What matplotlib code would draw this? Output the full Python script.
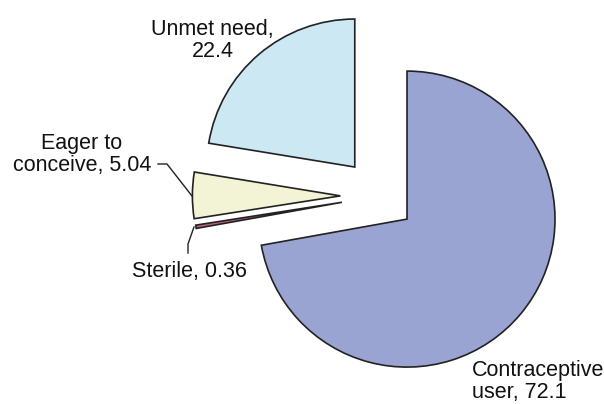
import matplotlib
matplotlib.use("Agg")
import matplotlib.pyplot as plt

categories = ["Contraceptive user", "Sterile", "Eager to conceive", "Unmet need"]
values = [72.1, 0.36, 5.04, 22.4]
label_texts = ["Contraceptive\nuser, 72.1", "Sterile, 0.36", "Eager to\nconceive, 5.04", "Unmet need,\n22.4"]
colors = ["#9aa4d2", "#c0607e", "#f3f3d6", "#cce8f3"]

W, H = 604, 404
fig = plt.figure(figsize=(W / 100, H / 100), dpi=100)
ax = fig.add_axes([0, 0, 1, 1])

def Y(py):
    return H - py

cx, cy = 379.4, Y(196)
radius = 148
explode = [36, 38, 39, 38]

ax.pie(values, colors=colors, startangle=90, counterclock=False,
       center=(cx, cy), radius=radius, explode=explode,
       wedgeprops=dict(edgecolor="#222222", linewidth=1.2), frame=True)
ax.set_xlim(0, W)
ax.set_ylim(0, H)
ax.set_aspect("equal")
ax.axis("off")

font = dict(family=["Liberation Sans", "DejaVu Sans"], fontsize=15.5, color="#111111")
ls = 1.05

ax.text(212.5, Y(57), label_texts[3], ha="center", va="baseline", multialignment="center",
        linespacing=ls, **font)
ax.text(82, Y(171), label_texts[2], ha="center", va="baseline", multialignment="center",
        linespacing=ls, **font)
ax.text(189, Y(277), label_texts[1], ha="center", va="baseline", **font)
ax.text(472, Y(398), label_texts[0], ha="left", va="baseline", multialignment="left",
        linespacing=ls, **font)

# leader lines
ax.plot([158, 167, 192], [Y(164), Y(164), Y(196)], color="#222222", lw=1)
ax.plot([188, 188, 194], [Y(253), Y(244), Y(227)], color="#222222", lw=1)

fig.savefig("out.png", dpi=100)
